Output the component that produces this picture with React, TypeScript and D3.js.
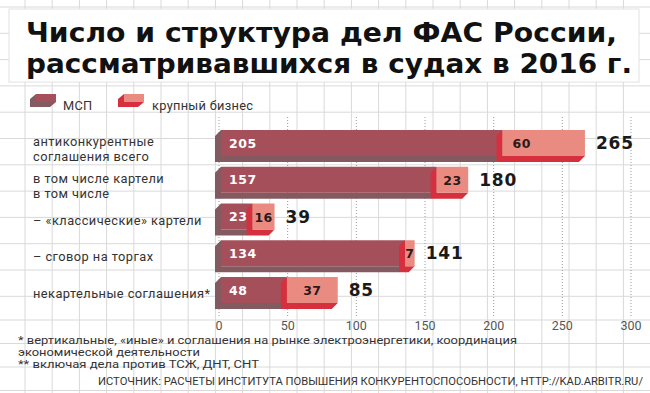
import { useEffect, useRef } from "react";
import * as d3 from "d3";

// data
const categories = [
  ["антиконкурентные", "соглашения всего"],
  ["в том числе картели", "в том числе"],
  ["– «классические» картели"],
  ["– сговор на торгах"],
  ["некартельные соглашения*"],
];
const smeValues = [205, 157, 23, 134, 48];
const bigValues = [60, 23, 16, 7, 37];
const totals = [265, 180, 39, 141, 85];
const tickValues = [0, 50, 100, 150, 200, 250, 300];
const seriesNames = ["МСП", "крупный бизнес"];
const titleLines = ["Число и структура дел ФАС России,", "рассматривавшихся в судах в 2016 г."];
const footnotes = [
  "* вертикальные, «иные» и соглашения на рынке электроэнергетики, координация",
  "экономической деятельности",
  "** включая дела против ТСЖ, ДНТ, СНТ",
];
const sourceText = "ИСТОЧНИК: РАСЧЕТЫ ИНСТИТУТА ПОВЫШЕНИЯ КОНКУРЕНТОСПОСОБНОСТИ, HTTP://KAD.ARBITR.RU/";

const COLORS = {
  smeFace: "#a44f5a",
  smeDepth: "#835a60",
  bigFace: "#e98b80",
  bigDepth: "#d62f3e",
  grid: "#d9d9d9",
  text: "#333",
};

export default function App() {
  const ref = useRef<HTMLDivElement>(null);

  useEffect(() => {
    document.body.style.margin = "0";
    d3.select(ref.current).selectAll("*").remove();

    const width = 650;
    const height = 393;
    const depth = 6;
    const shift = 3;
    const faceH = 26;

    const svg = d3
      .select(ref.current)
      .append("svg")
      .attr("width", width)
      .attr("height", height)
      .style("display", "block")
      .style("background", "#fff");

    // grid paper background
    const grid = svg.append("g").attr("stroke", COLORS.grid).attr("stroke-width", 1);
    d3.range(25, width + 1, 27.2).forEach(x => {
      grid.append("line").attr("x1", x).attr("x2", x).attr("y1", 0).attr("y2", height);
    });
    [...d3.range(7, 300, 26.3), ...d3.range(320, 393, 23.5)].forEach(y => {
      grid.append("line").attr("x1", 0).attr("x2", width).attr("y1", y).attr("y2", y);
    });

    // title box
    svg.append("rect")
      .attr("x", 9).attr("y", 9).attr("width", 630).attr("height", 73)
      .attr("fill", "#fff").attr("stroke", "#e2e2e2");
    const titleLens = [591, 606];
    titleLines.forEach((t, i) => {
      svg.append("text")
        .attr("x", 26).attr("y", 42 + i * 31)
        .attr("textLength", titleLens[i])
        .attr("lengthAdjust", "spacingAndGlyphs")
        .style("font-family", "'DejaVu Sans', sans-serif")
        .style("font-weight", 700)
        .style("font-size", "27px")
        .attr("fill", "#111")
        .text(t);
    });

    const x = d3.scaleLinear().domain([0, 300]).range([218, 630]);
    const y = d3.scaleBand<number>()
      .domain(d3.range(categories.length))
      .range([130, 309])
      .paddingInner(0.13)
      .paddingOuter(0);

    // 3d block: face shifted right, depth going down-left
    const block = (g, x0, x1, top, face, side) => {
      const fx0 = x0 + shift, fx1 = x1 + shift;
      g.append("polygon")
        .attr("points", [
          [fx0, top], [fx0 - depth, top + depth], [fx0 - depth, top + faceH + depth],
          [fx1 - depth, top + faceH + depth], [fx1, top + faceH], [fx0, top + faceH],
        ].join(" "))
        .attr("fill", side);
      g.append("rect")
        .attr("x", fx0).attr("y", top)
        .attr("width", Math.max(0, fx1 - fx0)).attr("height", faceH)
        .attr("fill", face);
    };

    // legend
    const legendX = [30, 118];
    const legendTextX = [63, 152];
    const legendColors = [[COLORS.smeFace, COLORS.smeDepth], [COLORS.bigFace, COLORS.bigDepth]];
    seriesNames.forEach((name, i) => {
      const lg = svg.append("g");
      const lx = legendX[i];
      lg.append("polygon")
        .attr("points", [[lx + 6, 94], [lx, 99], [lx, 107], [lx + 20, 107], [lx + 26, 102], [lx + 6, 102]].join(" "))
        .attr("fill", legendColors[i][1]);
      lg.append("rect").attr("x", lx + 6).attr("y", 94).attr("width", 20).attr("height", 8)
        .attr("fill", legendColors[i][0]);
      lg.append("text")
        .attr("x", legendTextX[i]).attr("y", 110)
        .style("font-family", "Roboto, sans-serif")
        .style("font-size", "12.8px")
        .style("letter-spacing", "0.3px")
        .attr("fill", COLORS.text)
        .text(name);
    });

    // dotted tick lines
    svg.append("g")
      .selectAll("line")
      .data(tickValues)
      .enter()
      .append("line")
      .attr("x1", d => x(d) + 1).attr("x2", d => x(d) + 1)
      .attr("y1", 117).attr("y2", 316)
      .attr("stroke", "#9a9a9a")
      .attr("stroke-width", 1)
      .attr("stroke-dasharray", "1,2");

    // axis labels
    svg.append("g")
      .selectAll("text")
      .data(tickValues)
      .enter()
      .append("text")
      .attr("x", d => x(d) + 1)
      .attr("y", 330)
      .attr("text-anchor", "middle")
      .style("font-family", "Roboto, sans-serif")
      .style("font-size", "12.5px")
      .attr("fill", "#555")
      .text(d => d);

    // bars
    categories.forEach((lines, i) => {
      const top = y(i)!;
      const mid = top + faceH / 2;
      const g = svg.append("g");
      const s = smeValues[i];
      const b = bigValues[i];
      block(g, x(0), x(s), top, COLORS.smeFace, COLORS.smeDepth);
      block(g, x(s), x(s + b), top, COLORS.bigFace, COLORS.bigDepth);

      g.append("text")
        .attr("x", x(0) + shift + 8)
        .attr("y", mid + 4.5)
        .style("font-family", "'DejaVu Sans', sans-serif")
        .style("font-weight", 700)
        .style("font-size", "12.5px")
        .style("letter-spacing", "0.6px")
        .attr("fill", "#fff")
        .text(s);

      const bx0 = x(s) + shift;
      const bw = x(s + b) - x(s);
      const wide = bw > 60;
      g.append("text")
        .attr("x", wide ? bx0 + 10 : bx0 + bw / 2)
        .attr("y", mid + 5)
        .attr("text-anchor", wide ? "start" : "middle")
        .style("font-family", "'DejaVu Sans', sans-serif")
        .style("font-weight", 700)
        .style("font-size", "12.5px")
        .style("letter-spacing", "0.4px")
        .attr("fill", "#2a1a1a")
        .text(b);

      g.append("text")
        .attr("x", x(totals[i]) + shift + 11)
        .attr("y", mid + 6)
        .style("font-family", "'DejaVu Sans', sans-serif")
        .style("font-weight", 700)
        .style("font-size", "17px")
        .style("letter-spacing", "0.8px")
        .attr("fill", "#1a1a1a")
        .text(totals[i]);

      const bandMid = top + y.bandwidth() / 2;
      lines.forEach((line, j) => {
        const ly = lines.length === 1 ? bandMid + 5 : bandMid + j * 15;
        g.append("text")
          .attr("x", 33)
          .attr("y", ly)
          .style("font-family", "Roboto, sans-serif")
          .style("font-size", "12.8px")
          .style("letter-spacing", "0.45px")
          .attr("fill", COLORS.text)
          .text(line);
      });
    });

    // footnotes
    const footY = [343.5, 355.8, 368];
    const footLens = [499, 182, 241];
    footnotes.forEach((t, i) => {
      svg.append("text")
        .attr("x", 18).attr("y", footY[i])
        .attr("textLength", footLens[i])
        .attr("lengthAdjust", "spacingAndGlyphs")
        .style("font-family", "Roboto, sans-serif")
        .style("font-size", "10.5px")
        .attr("fill", COLORS.text)
        .text(t);
    });
    svg.append("text")
      .attr("x", 98).attr("y", 385)
      .attr("textLength", 545)
      .attr("lengthAdjust", "spacingAndGlyphs")
      .style("font-family", "Roboto, sans-serif")
      .style("font-size", "11px")
      .attr("fill", COLORS.text)
      .text(sourceText);
  }, []);

  return <div ref={ref} style={{ width: 650, height: 393 }}></div>;
}
